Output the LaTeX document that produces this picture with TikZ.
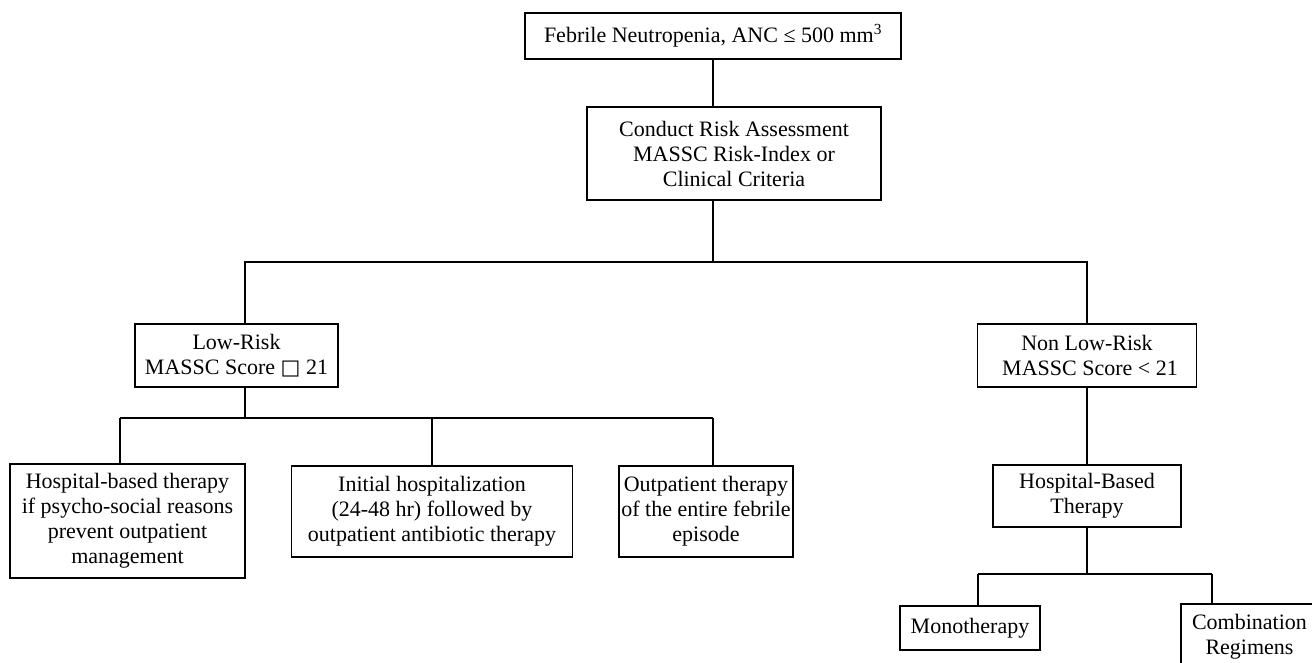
\documentclass[tikz,border=0pt]{standalone}
\usepackage{fontspec}
\setmainfont{Liberation Serif}
\newfontfamily\symfont{DejaVu Sans}

\begin{document}
\begin{tikzpicture}[
    x=1pt, y=-1pt,
    box/.style={draw, line width=1.6pt, align=center, inner sep=0pt,
                font=\fontsize{22}{25}\selectfont},
    link/.style={line width=1.6pt},
]
\useasboundingbox (0,0) rectangle (1312,663);
\clip (0,0) rectangle (1312,663);

% Top of the tree
\node[box, minimum width=376, minimum height=46] (febrile) at (713,36)
    {Febrile Neutropenia, ANC ≤ 500 mm\textsuperscript{3}};
\node[box, minimum width=294, minimum height=93] (conduct) at (734,153.5)
    {Conduct Risk Assessment\\MASSC Risk-Index or\\Clinical Criteria};

% Risk groups
\node[box, minimum width=203, minimum height=63] (lowrisk) at (236.5,355.5)
    {Low-Risk\\MASSC Score {\symfont\fontsize{21}{25}\selectfont □} 21};
\node[box, minimum width=219, minimum height=63] (nonlow) at (1087,355.5)
    {Non Low-Risk\\\hspace{6pt}MASSC Score < 21};

% Low-risk options
\node[box, minimum width=235, minimum height=114] (hospbased) at (127.5,521)
    {Hospital-based therapy\\if psycho-social reasons\\prevent outpatient\\management};
\node[box, minimum width=281, minimum height=91] (initial) at (432,511.5)
    {Initial hospitalization\\(24-48 hr) followed by\\outpatient antibiotic therapy};
\node[box, minimum width=174, minimum height=91] (outpat) at (706,511.5)
    {Outpatient therapy\\of the entire febrile\\episode};

% Non low-risk options
\node[box, minimum width=188, minimum height=62] (hbt) at (1087,496)
    {Hospital-Based\\Therapy};
\node[box, minimum width=140, minimum height=44] (mono) at (970,628)
    {Monotherapy};
\node[box, minimum width=137, minimum height=65] (combo) at (1249.5,636.5)
    {Combination\\Regimens};

% Bus lines
\coordinate (busA) at (713,262);
\coordinate (busB) at (245,418);
\coordinate (dropH) at (120,418);
\coordinate (dropO) at (713,418);
\coordinate (busC) at (1087,574);
\coordinate (dropM) at (978,574);
\coordinate (dropC) at (1212,574);

% Connectors
\draw[link] (febrile.south) -- (febrile.south |- conduct.north);
\draw[link] (busA |- conduct.south) -- (busA);
\draw[link] (busA) -| (nonlow.north);
\draw[link] (busA) -| (busB |- lowrisk.north);

\draw[link] (busB |- lowrisk.south) -- (busB);
\draw[link] (dropH) -- (dropO);
\draw[link] (dropH) -- (dropH |- hospbased.north);
\draw[link] (initial.north |- busB) -- (initial.north);
\draw[link] (dropO) -- (dropO |- outpat.north);

\draw[link] (nonlow.south) -- (hbt.north);
\draw[link] (hbt.south) -- (busC);
\draw[link] (dropM) -- (dropC);
\draw[link] (dropM) -- (dropM |- mono.north);
\draw[link] (dropC) -- (dropC |- combo.north);
\end{tikzpicture}
\end{document}
